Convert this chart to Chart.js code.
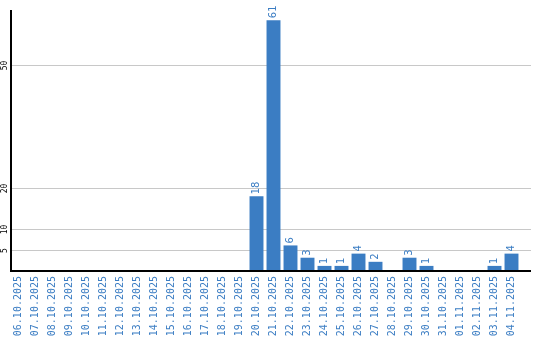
<!DOCTYPE html>
<html>
<head>
<meta charset="utf-8">
<style>
  body { margin: 0; background: #fff; }
  canvas { display: block; }
</style>
<script src="https://cdn.jsdelivr.net/npm/chart.js@4"></script>
</head>
<body>
<canvas id="myChart" width="540" height="340"></canvas>
<script>
var labels = [
    "06.10.2025", "07.10.2025", "08.10.2025", "09.10.2025", "10.10.2025",
    "11.10.2025", "12.10.2025", "13.10.2025", "14.10.2025", "15.10.2025",
    "16.10.2025", "17.10.2025", "18.10.2025", "19.10.2025", "20.10.2025",
    "21.10.2025", "22.10.2025", "23.10.2025", "24.10.2025", "25.10.2025",
    "26.10.2025", "27.10.2025", "28.10.2025", "29.10.2025", "30.10.2025",
    "31.10.2025", "01.11.2025", "02.11.2025", "03.11.2025", "04.11.2025"
];
var counts = [0, 0, 0, 0, 0, 0, 0, 0, 0, 0, 0, 0, 0, 0, 18,
    61, 6, 3, 1, 1, 4, 2, 0, 3, 1, 0, 0, 0, 1, 4];
var yTicks = [5, 10, 20, 50];

var blue = '#3b7dc3';

// grid, axes and value labels are drawn by hand
var decorPlugin = {
    id: 'decor',
    beforeDatasetsDraw: function (chart) {
        var ctx = chart.ctx;
        var area = chart.chartArea;
        var ys = chart.scales.y;
        ctx.save();
        ctx.strokeStyle = '#c8c8c8';
        ctx.lineWidth = 1;
        yTicks.forEach(function (v) {
            var y = Math.round(ys.getPixelForValue(v)) + 0.5;
            ctx.beginPath();
            ctx.moveTo(area.left + 1, y);
            ctx.lineTo(area.right + 11, y);
            ctx.stroke();

            ctx.save();
            ctx.fillStyle = '#000';
            ctx.font = '8px "DejaVu Sans Mono"';
            ctx.textAlign = 'center';
            ctx.textBaseline = 'middle';
            ctx.translate(4.5, y);
            ctx.rotate(-Math.PI / 2);
            ctx.fillText(String(v), 0, 0);
            ctx.restore();
        });
        ctx.restore();
    },
    afterDatasetsDraw: function (chart) {
        var ctx = chart.ctx;
        var area = chart.chartArea;
        var ys = chart.scales.y;
        var y0 = ys.getPixelForValue(0);
        ctx.save();
        ctx.strokeStyle = '#000';
        ctx.lineWidth = 2;
        ctx.beginPath();
        ctx.moveTo(area.left + 1, area.top);
        ctx.lineTo(area.left + 1, y0 + 1);
        ctx.lineTo(area.right + 11, y0 + 1);
        ctx.stroke();

        ctx.fillStyle = blue;
        ctx.font = '10px "DejaVu Sans"';
        ctx.textAlign = 'left';
        ctx.textBaseline = 'middle';
        var meta = chart.getDatasetMeta(0);
        meta.data.forEach(function (bar, i) {
            if (!counts[i]) return;
            ctx.save();
            ctx.translate(bar.x, bar.y - 2);
            ctx.rotate(-Math.PI / 2);
            ctx.fillText(String(counts[i]), 0, 0);
            ctx.restore();
        });
        ctx.restore();
    }
};

var myChart = new Chart("myChart", {
    type: "bar",
    data: {
        labels: labels,
        datasets: [{
            data: counts,
            backgroundColor: blue,
            borderWidth: 0,
            barPercentage: 0.82,
            categoryPercentage: 1
        }]
    },
    options: {
        responsive: false,
        animation: false,
        layout: { padding: { left: 10, top: 10, right: 20, bottom: 0 } },
        plugins: {
            legend: { display: false },
            tooltip: { enabled: false }
        },
        scales: {
            x: {
                grid: { display: false, drawTicks: false },
                border: { display: false },
                ticks: {
                    color: blue,
                    font: { family: 'DejaVu Sans Mono', size: 10 },
                    minRotation: 90,
                    maxRotation: 90,
                    autoSkip: false,
                    padding: 6
                },
                afterFit: function (scale) { scale.height = 70; }
            },
            y: {
                display: false,
                min: 0,
                max: 63.5
            }
        }
    },
    plugins: [decorPlugin]
});
</script>
</body>
</html>
